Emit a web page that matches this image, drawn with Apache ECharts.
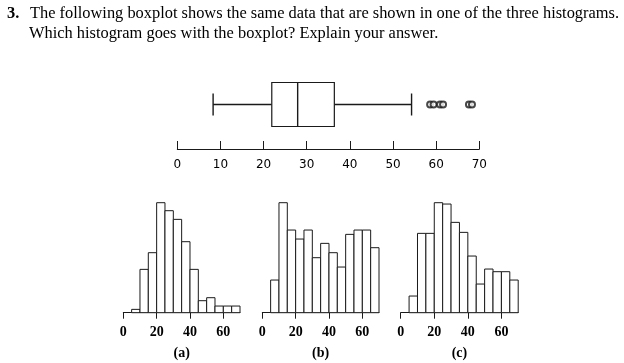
<!DOCTYPE html>
<html><head><meta charset="utf-8">
<script src="https://cdn.jsdelivr.net/npm/echarts@6/dist/echarts.min.js"></script>
<style>html,body{margin:0;padding:0;background:#fff}#c{width:624px;height:363px}</style>
</head><body><div id="c"></div>
<script>
// ---- data ----
const binStarts = [5, 10, 15, 20, 25, 30, 35, 40, 45, 50, 55, 60, 65];
const binWidth = 5;
const histA = [1, 13, 18, 33, 30.6, 28, 21.3, 13, 3.6, 4.5, 2, 2, 2];
const histB = [9.8, 33, 24.8, 22.1, 24.8, 16.5, 20.8, 18, 13.7, 23.5, 24.8, 24.8, 19.5];
const histC = [5, 23.8, 23.8, 33, 32.6, 27.1, 24.1, 17, 8.6, 13.1, 12.3, 12.3, 9.8];
const histNames = ['(a)', '(b)', '(c)'];
const boxStats = [8.3, 21.9, 27.9, 36.4, 54.3]; // min, Q1, median, Q3, max
const outliers = [58.6, 59.4, 60.9, 61.6, 67.6, 68.3];
const boxTicks = [0, 10, 20, 30, 40, 50, 60, 70];
const histTicks = [0, 20, 40, 60];
const titleNum = '3.';
const titleLine1 = 'The following boxplot shows the same data that are shown in one of the three histograms.';
const titleLine2 = 'Which histogram goes with the boxplot? Explain your answer.';

const INK = '#1a1a1a';
const chart = echarts.init(document.getElementById('c'));

const histGrids = [
  { left: 123.3, top: 202.7, width: 116.7, height: 110 },
  { left: 262.3, top: 202.7, width: 116.7, height: 110 },
  { left: 400.7, top: 202.7, width: 117.5, height: 110 }
];
const hists = [histA, histB, histC];

const grids = [{ left: 177.3, top: 60, width: 302, height: 89 }].concat(histGrids);

const xAxes = [{
  gridIndex: 0, type: 'value', min: 0, max: 70, interval: 10,
  axisLine: { show: true, lineStyle: { color: INK, width: 1 } },
  axisTick: { show: true, inside: true, length: 8, lineStyle: { color: INK, width: 1 } },
  axisLabel: { margin: 10, color: '#000', fontFamily: 'DejaVu Sans', fontSize: 12, customValues: boxTicks },
  splitLine: { show: false }
}];
const yAxes = [{ gridIndex: 0, type: 'value', min: 0, max: 1, show: false }];
histNames.forEach((nm, i) => {
  xAxes.push({
    gridIndex: i + 1, type: 'value', min: 0, max: 70,
    name: nm, nameLocation: 'middle', nameGap: 34,
    nameTextStyle: { color: '#000', fontFamily: 'Liberation Serif', fontSize: 14, fontWeight: 'bold' },
    axisLine: { show: true, onZero: false, lineStyle: { color: INK, width: 1 } },
    axisTick: { show: true, length: 6, customValues: histTicks, lineStyle: { color: INK, width: 1 } },
    axisLabel: { margin: 13, color: '#000', fontFamily: 'Liberation Serif', fontSize: 14, fontWeight: 'bold', customValues: histTicks },
    splitLine: { show: false }
  });
  yAxes.push({ gridIndex: i + 1, type: 'value', min: 0, max: 33, show: false });
});

const series = [];
series.push({
  type: 'custom', xAxisIndex: 0, yAxisIndex: 0,
  data: [boxStats],
  encode: { x: [0, 1, 2, 3, 4] },
  renderItem: function (params, api) {
    const xs = [0, 1, 2, 3, 4].map(k => api.coord([api.value(k), 0.5])[0]);
    const y = api.coord([0, 0.5])[1];
    const bh = 22, ch = 11;
    const st = { stroke: INK, lineWidth: 1.4, fill: null };
    return {
      type: 'group', children: [
        { type: 'line', shape: { x1: xs[0], y1: y, x2: xs[1], y2: y }, style: st },
        { type: 'line', shape: { x1: xs[3], y1: y, x2: xs[4], y2: y }, style: st },
        { type: 'line', shape: { x1: xs[0], y1: y - ch, x2: xs[0], y2: y + ch }, style: st },
        { type: 'line', shape: { x1: xs[4], y1: y - ch, x2: xs[4], y2: y + ch }, style: st },
        { type: 'rect', shape: { x: xs[1], y: y - bh, width: xs[3] - xs[1], height: 2 * bh }, style: { stroke: INK, lineWidth: 1.2, fill: '#fff' } },
        { type: 'line', shape: { x1: xs[2], y1: y - bh, x2: xs[2], y2: y + bh }, style: st }
      ]
    };
  }
});
series.push({
  type: 'scatter', xAxisIndex: 0, yAxisIndex: 0,
  data: outliers.map(v => [v, 0.5]),
  symbol: 'emptyCircle', symbolSize: 6,
  itemStyle: { color: INK, borderColor: INK, borderWidth: 1 },
  z: 5
});
hists.forEach((h, i) => {
  series.push({
    type: 'custom', xAxisIndex: i + 1, yAxisIndex: i + 1,
    data: binStarts.map((s, k) => [s, s + binWidth, h[k]]),
    encode: { x: [0, 1], y: 2 },
    renderItem: function (params, api) {
      const p0 = api.coord([api.value(0), 0]);
      const p1 = api.coord([api.value(1), api.value(2)]);
      return {
        type: 'rect',
        shape: { x: p0[0], y: p1[1], width: p1[0] - p0[0], height: p0[1] - p1[1] },
        style: { fill: '#fff', stroke: INK, lineWidth: 1 }
      };
    }
  });
});

chart.setOption({
  animation: false,
  backgroundColor: '#fff',
  grid: grids,
  xAxis: xAxes,
  yAxis: yAxes,
  series: series,
  graphic: [
    { type: 'text', left: 7, top: 6, style: { text: titleNum, font: 'bold 16.4px "Liberation Serif"', fill: '#000' } },
    { type: 'text', left: 30, top: 6, style: { text: titleLine1, font: '16.4px "Liberation Serif"', fill: '#000' } },
    { type: 'text', left: 29, top: 26, style: { text: titleLine2, font: '16.4px "Liberation Serif"', fill: '#000' } }
  ]
});
</script></body></html>
